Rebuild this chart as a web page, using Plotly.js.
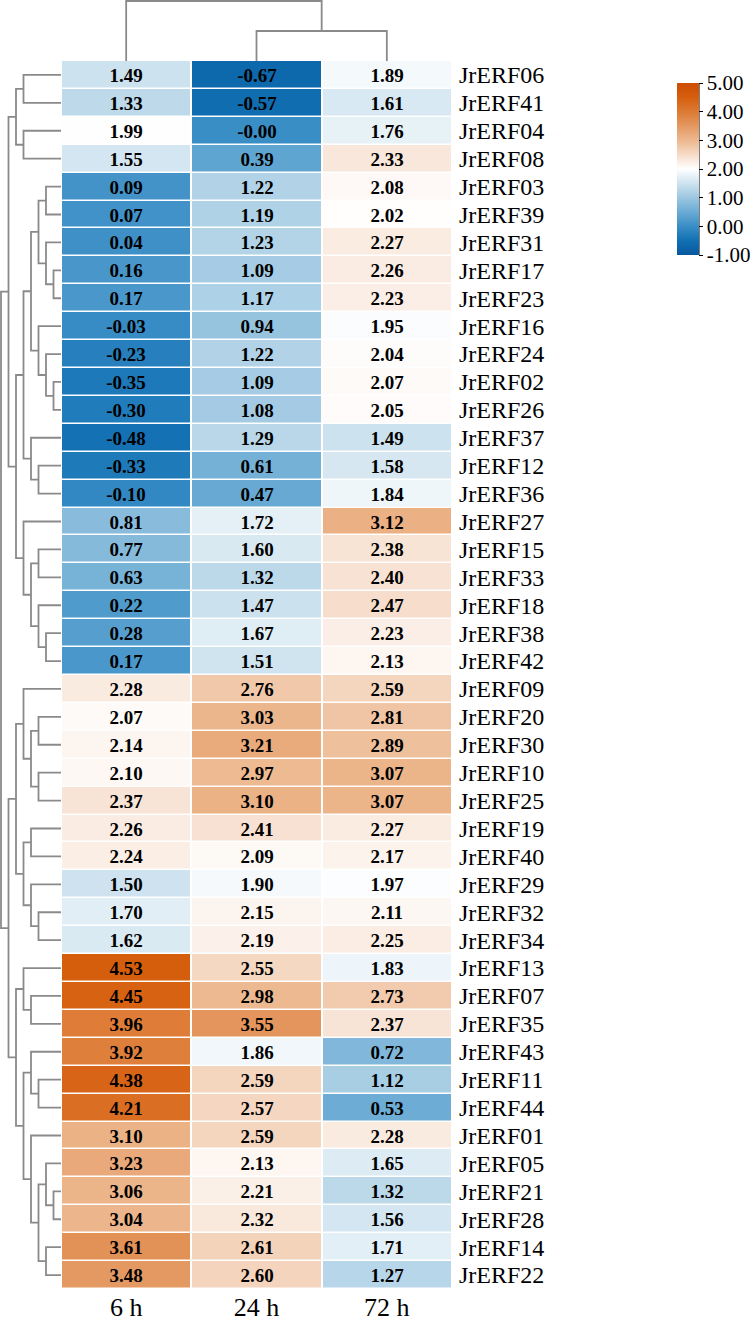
<!DOCTYPE html>
<html><head><meta charset="utf-8">
<script src="https://cdn.plot.ly/plotly-3.0.1.min.js"></script>
<style>html,body{margin:0;padding:0;background:#fff}</style>
</head><body><div id="chart" style="width:751px;height:1325px"></div>
<script>
// ---------- data ----------
const genes = ['JrERF06','JrERF41','JrERF04','JrERF08','JrERF03','JrERF39','JrERF31','JrERF17','JrERF23','JrERF16',
  'JrERF24','JrERF02','JrERF26','JrERF37','JrERF12','JrERF36','JrERF27','JrERF15','JrERF33','JrERF18',
  'JrERF38','JrERF42','JrERF09','JrERF20','JrERF30','JrERF10','JrERF25','JrERF19','JrERF40','JrERF29',
  'JrERF32','JrERF34','JrERF13','JrERF07','JrERF35','JrERF43','JrERF11','JrERF44','JrERF01','JrERF05',
  'JrERF21','JrERF28','JrERF14','JrERF22'];
const timepoints = ['6 h','24 h','72 h'];
const values6h = [1.49,1.33,1.99,1.55,0.09,0.07,0.04,0.16,0.17,-0.03,
  -0.23,-0.35,-0.30,-0.48,-0.33,-0.10,0.81,0.77,0.63,0.22,
  0.28,0.17,2.28,2.07,2.14,2.10,2.37,2.26,2.24,1.50,
  1.70,1.62,4.53,4.45,3.96,3.92,4.38,4.21,3.10,3.23,
  3.06,3.04,3.61,3.48];
const values24h = [-0.67,-0.57,-0.001,0.39,1.22,1.19,1.23,1.09,1.17,0.94,
  1.22,1.09,1.08,1.29,0.61,0.47,1.72,1.60,1.32,1.47,
  1.67,1.51,2.76,3.03,3.21,2.97,3.10,2.41,2.09,1.90,
  2.15,2.19,2.55,2.98,3.55,1.86,2.59,2.57,2.59,2.13,
  2.21,2.32,2.61,2.60];
const values72h = [1.89,1.61,1.76,2.33,2.08,2.02,2.27,2.26,2.23,1.95,
  2.04,2.07,2.05,1.49,1.58,1.84,3.12,2.38,2.40,2.47,
  2.23,2.13,2.59,2.81,2.89,3.07,3.07,2.27,2.17,1.97,
  2.11,2.25,1.83,2.73,2.37,0.72,1.12,0.53,2.28,1.65,
  1.32,1.56,1.71,1.27];
// clustering trees: [level, left, right]; leaves = row / column index
const geneTree = [8,
  [7,
    [6, [5, 0, 1], [5, 2, 3]],
    [6,
      [5,
        [4,
          [3, [2, 4, 5], [2, 6, [1, 7, 8]]],
          [3, 9, [2, 10, [1, 11, 12]]]],
        [4, 13, [3, 14, 15]]],
      [5, 16, [4, [3, 17, 18], [3, 19, [2, 20, 21]]]]]],
  [7,
    [6,
      [5, 22, [4, [3, 23, 24], [3, 25, 26]]],
      [5, [4, 27, 28], [4, 29, [3, 30, 31]]]],
    [6,
      [5, 32, [4, 33, 34]],
      [5,
        [4, 35, [3, 36, 37]],
        [4, 38, [3, [2, 39, [1, 40, 41]], [2, 42, 43]]]]]]];
const timeTree = [2, 0, [1, 1, 2]];
const colorbarTicks = [-1, 0, 1, 2, 3, 4, 5];

// ---------- build ----------
const z = genes.map((g, i) => [values6h[i], values24h[i], values72h[i]]);
const txt = z.map(r => r.map(v => v.toFixed(2)));

function walk(node, segs) {
  if (typeof node === 'number') return {pos: node, h: 0};
  const A = walk(node[1], segs), B = walk(node[2], segs), h = node[0];
  segs.push([[A.h, A.pos], [h, A.pos], [h, B.pos], [B.h, B.pos]]);
  return {pos: (A.pos + B.pos) / 2, h: h};
}
function dendro(tree, horizontal) {
  const segs = []; walk(tree, segs);
  const xs = [], ys = [];
  segs.forEach(s => {
    s.forEach(p => { if (horizontal) { xs.push(p[0]); ys.push(p[1]); } else { xs.push(p[1]); ys.push(p[0]); } });
    xs.push(null); ys.push(null);
  });
  return {xs, ys};
}
const L = dendro(geneTree, true);
const T = dendro(timeTree, false);

const W = 751, H = 1325;
const hx0 = 61 / W, hx1 = 452 / W;
const hy0 = 1 - 1289 / H, hy1 = 1 - 61 / H;
const serif = 'Liberation Serif, Times New Roman, serif';
const lineStyle = {color: '#8a8a8a', width: 1.8};

const colorscale = [
  [0, '#08589e'], [0.5/6, '#1170b3'], [1/6, '#3a8ec6'], [1.5/6, '#6aabd4'],
  [2/6, '#9cc7e1'], [2.5/6, '#cee3ef'], [3/6, '#ffffff'], [3.5/6, '#f6dbc8'],
  [4/6, '#edb88f'], [4.5/6, '#e49861'], [5/6, '#dd7a34'], [5.5/6, '#d65f0e'], [1, '#cc4c02']];

const traces = [
  {
    type: 'heatmap', x: timepoints, y: genes, z: z, text: txt,
    texttemplate: '%{text}',
    textfont: {family: serif, size: 19, color: '#000', weight: 'bold'},
    colorscale: colorscale, zmin: -1, zmax: 5, xgap: 2, ygap: 1.5,
    hoverinfo: 'skip',
    colorbar: {
      x: 677 / W, xanchor: 'left', xpad: 0, y: 1 - 169 / H, yanchor: 'middle', ypad: 0,
      thickness: 22, thicknessmode: 'pixels', len: 172, lenmode: 'pixels',
      outlinewidth: 0, ticks: 'outside', ticklen: 4, tickwidth: 1, tickcolor: '#000',
      tickvals: colorbarTicks, ticktext: colorbarTicks.map(v => v.toFixed(2)),
      tickfont: {family: serif, size: 21, color: '#000'}
    }
  },
  {type: 'scatter', mode: 'lines', x: L.xs, y: L.ys, xaxis: 'x2', yaxis: 'y2', line: lineStyle, hoverinfo: 'skip'},
  {type: 'scatter', mode: 'lines', x: T.xs, y: T.ys, xaxis: 'x3', yaxis: 'y3', line: lineStyle, hoverinfo: 'skip'}
];

const hidden = {showgrid: false, zeroline: false, showticklabels: false, ticks: '', showline: false, fixedrange: true};
const layout = {
  width: W, height: H, margin: {l: 0, r: 0, t: 0, b: 0},
  paper_bgcolor: '#fff', plot_bgcolor: 'rgba(0,0,0,0)', showlegend: false,
  xaxis: {domain: [hx0, hx1], type: 'category', showgrid: false, zeroline: false, ticks: '', side: 'bottom',
    tickmode: 'array', tickvals: timepoints, ticktext: timepoints,
    tickfont: {family: serif, size: 26, color: '#000'}, ticklabelstandoff: 0, fixedrange: true},
  yaxis: {domain: [hy0, hy1], type: 'category', range: [genes.length - 0.5, -0.5], showgrid: false, zeroline: false,
    tickmode: 'array', tickvals: genes, ticktext: genes,
    ticks: '', side: 'right', tickfont: {family: serif, size: 24, color: '#000'}, ticklabelstandoff: 6, fixedrange: true},
  xaxis2: Object.assign({domain: [0, hx0], range: [8.133, 0], anchor: 'y2'}, hidden),
  yaxis2: Object.assign({domain: [hy0, hy1], range: [genes.length - 0.5, -0.5], anchor: 'x2'}, hidden),
  xaxis3: Object.assign({domain: [hx0, hx1], range: [-0.5, 2.5], anchor: 'y3'}, hidden),
  yaxis3: Object.assign({domain: [hy1, 1], range: [0, 2.033], anchor: 'x3'}, hidden),
  shapes: [{type: 'line', xref: 'paper', yref: 'paper', x0: 699 / W, x1: 699 / W, y0: 1 - 255 / H, y1: 1 - 83 / H,
    line: {color: '#000', width: 1}}]
};
Plotly.newPlot('chart', traces, layout, {displayModeBar: false, staticPlot: true});
</script></body></html>
